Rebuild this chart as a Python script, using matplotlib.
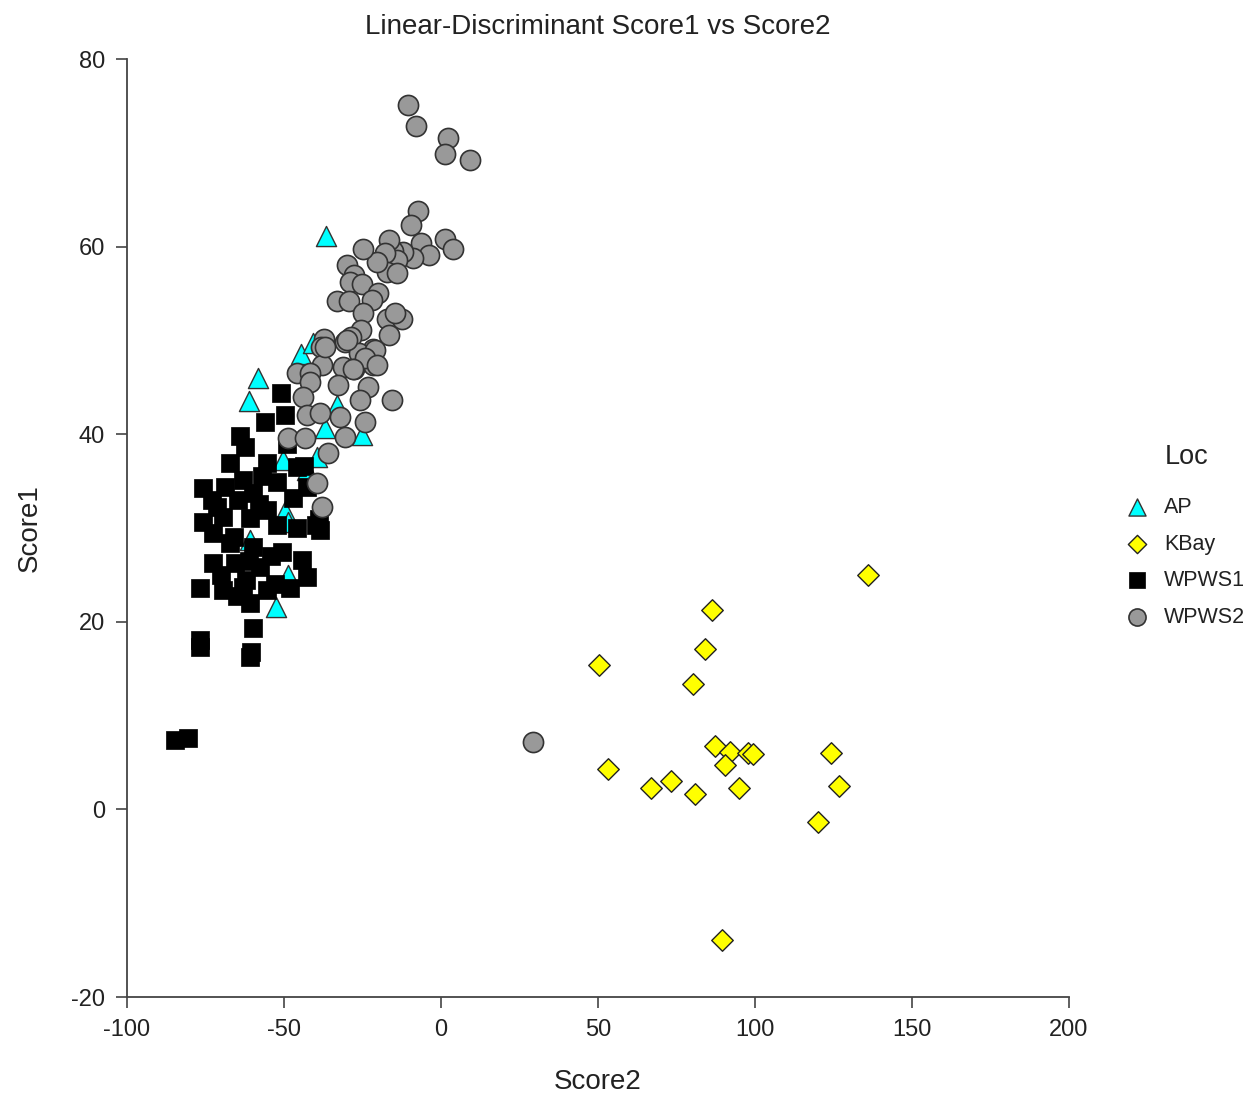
import matplotlib
matplotlib.use("Agg")
import matplotlib.pyplot as plt

plt.rcParams['font.family'] = ['Liberation Sans', 'DejaVu Sans']
plt.rcParams['axes.unicode_minus'] = False

# ---- data ----
ap_x = [-36.6, -44.6, -58.3, -61.1, -40.8, -33.1, -36.9, -25.2, -39.5, -50.3,
        -42.7, -49.7, -48.7, -60.8, -48.7, -52.5]
ap_y = [61.1, 48.6, 46.0, 43.5, 49.7, 43.1, 40.7, 39.9, 37.6, 37.2,
        36.2, 31.8, 30.6, 28.7, 25.0, 21.6]

kbay_x = [136.0, 86.3, 84.1, 50.3, 80.3, 87.3, 92.0, 97.8, 99.4, 90.4,
          53.2, 73.2, 66.9, 80.9, 94.9, 124.2, 126.8, 120.0, 89.5]
kbay_y = [25.0, 21.3, 17.1, 15.4, 13.4, 6.8, 6.1, 6.0, 5.9, 4.7,
          4.3, 3.0, 2.3, 1.6, 2.3, 6.0, 2.5, -1.3, -13.9]

wpws1_x = [-51.0, -49.7, -56.0, -64.0, -62.4, -67.2, -55.4, -45.9, -75.8, -68.8,
           -63.0, -52.2, -42.7, -64.6, -59.9, -71.3, -55.4, -75.8, -69.4, -60.8,
           -52.2, -38.5, -72.6, -67.2, -59.9, -50.6, -44.3, -72.6, -65.6, -57.6,
           -42.7, -76.8, -69.4, -63.0, -55.4, -48.1, -60.8, -59.9, -76.8, -76.7,
           -60.8, -60.5, -84.7, -80.6, -39.8, -43.6, -47.0, -58.0, -66.0, -70.0,
           -54.0, -46.0, -62.0, -57.0, -73.0, -65.0, -53.0, -39.0, -61.0, -49.0]
wpws1_y = [44.4, 42.0, 41.3, 39.8, 38.6, 36.9, 36.9, 36.5, 34.3, 34.4,
           35.1, 34.9, 34.4, 33.0, 33.7, 32.2, 31.9, 30.6, 31.2, 31.1,
           30.3, 29.8, 29.5, 28.4, 28.0, 27.4, 26.6, 26.3, 26.3, 25.8,
           24.8, 23.6, 23.4, 23.7, 23.4, 23.6, 22.0, 19.3, 18.1, 17.3,
           16.2, 16.8, 7.4, 7.6, 30.3, 36.6, 33.2, 32.6, 29.0, 25.0,
           27.0, 30.0, 24.5, 35.5, 33.0, 22.8, 24.0, 31.0, 26.5, 39.0]

wpws2_x = [-10.5, -8.0, 2.2, 1.3, 9.2, -7.3, -9.6, 1.3, 3.8, -6.4,
           -3.8, -8.9, -12.1, -15.3, -14.0, -16.6, -17.8, -17.2, -20.4, -24.8,
           -14.0, -29.9, -27.7, -29.0, -25.2, -20.1, -33.1, -29.3, -22.0, -24.8,
           -17.2, -12.4, -14.6, -16.6, -25.5, -28.7, -30.6, -37.3, -38.2, -21.7,
           -26.1, -23.6, -21.7, -37.9, -31.2, -27.7, -45.9, -41.7, -30.0, -36.9,
           -21.0, -24.2, -20.4, -28.0, -41.7, -32.8, -23.2, -44.0, -25.8, -15.6,
           -42.7, -38.5, -32.2, -24.2, -48.7, -43.3, -30.6, -36.0, -39.5, -37.9,
           29.3]
wpws2_y = [75.1, 72.9, 71.6, 69.9, 69.2, 63.8, 62.3, 60.8, 59.8, 60.4,
           59.1, 58.8, 59.4, 59.5, 58.6, 60.7, 59.3, 57.3, 58.4, 59.7,
           57.2, 58.0, 57.0, 56.2, 56.0, 55.1, 54.2, 54.2, 54.3, 52.9,
           52.3, 52.3, 52.9, 50.6, 51.1, 50.4, 49.8, 50.1, 49.3, 49.1,
           48.7, 47.9, 47.4, 47.4, 47.2, 47.0, 46.5, 46.5, 50.0, 49.3,
           49.0, 48.1, 47.4, 47.0, 45.6, 45.2, 45.0, 44.0, 43.6, 43.6,
           42.0, 42.3, 41.8, 41.3, 39.6, 39.6, 39.7, 38.0, 34.8, 32.2,
           7.2]

xticks = [-100, -50, 0, 50, 100, 150, 200]
yticks = [-20, 0, 20, 40, 60, 80]

# ---- figure ----
fig = plt.figure(figsize=(12.54, 10.93), dpi=100)
ax = fig.add_axes([0.1013, 0.0878, 0.7512, 0.8582])

ax.scatter(ap_x, ap_y, marker='^', s=210, c='#00FFFF', edgecolors='#333333',
           linewidths=1.0, label='AP', zorder=2)
ax.scatter(kbay_x, kbay_y, marker='D', s=120, c='#FFFF00', edgecolors='#222222',
           linewidths=1.0, label='KBay', zorder=3)
ax.scatter(wpws1_x, wpws1_y, marker='s', s=170, c='black', edgecolors='black',
           linewidths=0.5, label='WPWS1', zorder=4)
ax.scatter(wpws2_x, wpws2_y, marker='o', s=210, c='#999999', edgecolors='#333333',
           linewidths=1.2, label='WPWS2', zorder=5)

ax.set_xlim(-100, 200)
ax.set_ylim(-20, 80)
ax.set_xticks(xticks)
ax.set_yticks(yticks)
ax.spines['top'].set_visible(False)
ax.spines['right'].set_visible(False)
for sp in ('left', 'bottom'):
    ax.spines[sp].set_color('#444444')
    ax.spines[sp].set_linewidth(1.3)
ax.tick_params(axis='both', direction='out', length=8, width=1.2, color='#444444',
               labelsize=17, pad=8, labelcolor='#222222')
ax.set_xlabel('Score2', fontsize=20, labelpad=20, color='#222222')
ax.set_ylabel('Score1', fontsize=20, labelpad=20, color='#222222')
ax.set_title('Linear-Discriminant Score1 vs Score2', fontsize=20, pad=18, color='#222222')

leg = fig.legend(loc='upper left', bbox_to_anchor=(0.888, 0.555), frameon=False,
                 fontsize=15.5, markerscale=0.85, borderpad=0,
                 handletextpad=0.65, labelspacing=0.72, handlelength=1.2)
for t in leg.get_texts():
    t.set_color('#222222')
fig.text(1165 / 1254, 1 - 457 / 1093, 'Loc', fontsize=19.5, ha='left', va='center',
         color='#222222')

fig.savefig('out.png', dpi=100)
